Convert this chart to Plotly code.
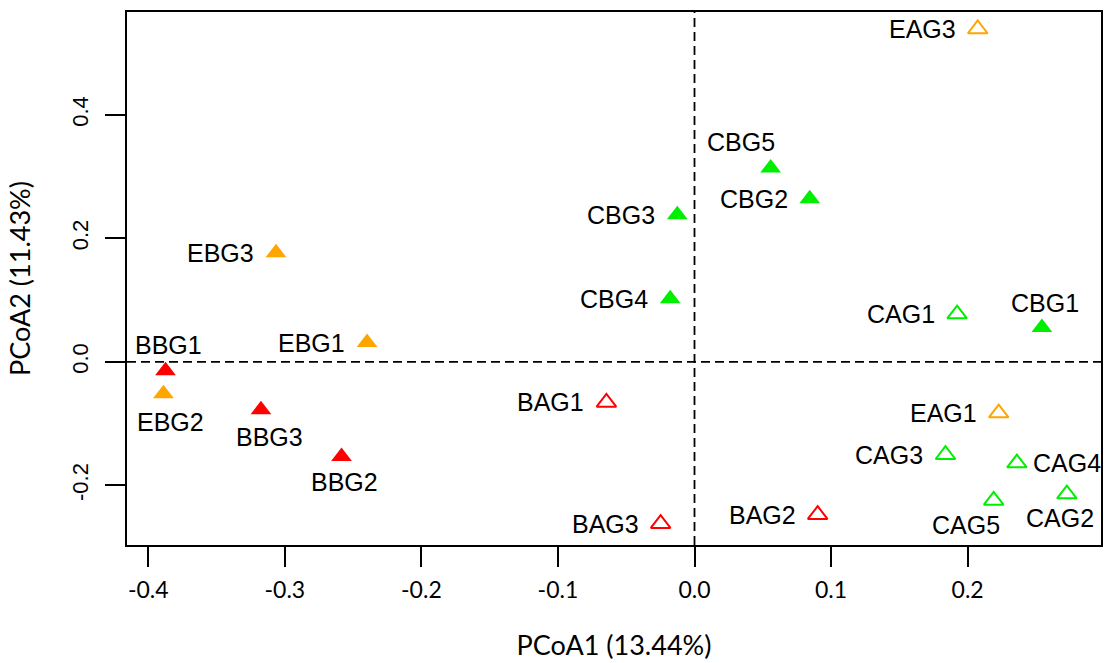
import plotly.graph_objects as go

# ---- data ----
names = ["EAG3", "CBG5", "CBG2", "CBG3", "EBG3", "CBG4", "CAG1", "CBG1", "EBG1",
         "BBG1", "EBG2", "BBG3", "BAG1", "EAG1", "BBG2", "CAG3", "CAG4", "CAG2",
         "CAG5", "BAG2", "BAG3"]
pcoa1 = [0.2074, 0.0558, 0.0844, -0.0126, -0.3065, -0.0178, 0.1923, 0.2544, -0.2398,
         -0.3874, -0.3889, -0.3175, -0.0645, 0.2228, -0.2585, 0.1838, 0.2361, 0.2727,
         0.2191, 0.0902, -0.0248]
pcoa2 = [0.5388, 0.3139, 0.2638, 0.2379, 0.1764, 0.1019, 0.0772, 0.0555, 0.0312,
         -0.0146, -0.0518, -0.0777, -0.0658, -0.0830, -0.1532, -0.1505, -0.1640, -0.2141,
         -0.2244, -0.2476, -0.2621]

x_ticks = [-0.4, -0.3, -0.2, -0.1, 0.0, 0.1, 0.2]
x_tick_text = ["-0.4", "-0.3", "-0.2", "-0.1", "0.0", "0.1", "0.2"]
y_ticks = [-0.2, 0.0, 0.2, 0.4]
y_tick_text = ["-0.2", "0.0", "0.2", "0.4"]
x_title = "PCoA1 (13.44%)"
y_title = "PCoA2 (11.43%)"

# ---- style ----
group_color = {"B": "#FF0000", "C": "#00EE00", "E": "#FFA500"}

# label placement (pixel offsets of label centre from point; 'L' = left, 'R' = right)
label_place = {
    "EAG3": "L", "CBG5": (-30, -26), "CBG2": "L", "CBG3": "L", "EBG3": "L", "CBG4": "L",
    "CAG1": "L", "CBG1": (3, -25), "EBG1": "L", "BBG1": (3, -26), "EBG2": (7, 28),
    "BBG3": (9, 27), "BAG1": "L", "EAG1": "L", "BBG2": (3, 26), "CAG3": "L", "CAG4": "R",
    "CAG2": (-7, 24), "CAG5": (-28, 25), "BAG2": "L", "BAG3": "L",
}

fig = go.Figure()

for grp in ["B", "C", "E"]:
    for kind in ["BG", "AG"]:
        idx = [i for i, n in enumerate(names) if n[0] == grp and n[1:3] == kind]
        if not idx:
            continue
        filled = kind == "BG"
        fig.add_trace(go.Scatter(
            x=[pcoa1[i] for i in idx],
            y=[pcoa2[i] for i in idx],
            mode="markers",
            marker=dict(
                symbol="triangle-up" if filled else "triangle-up-open",
                size=18 if filled else 17,
                color=group_color[grp],
                line=dict(width=0 if filled else 2, color=group_color[grp]),
            ),
            hovertext=[names[i] for i in idx],
            showlegend=False,
        ))

label_font = dict(family="Liberation Sans, Arial, sans-serif", size=25, color="black")
annotations = []
for n, x, y in zip(names, pcoa1, pcoa2):
    p = label_place[n]
    if p == "L":
        annotations.append(dict(x=x, y=y, text=n, showarrow=False, xanchor="right",
                                yanchor="middle", xshift=-20, font=label_font))
    elif p == "R":
        annotations.append(dict(x=x, y=y, text=n, showarrow=False, xanchor="left",
                                yanchor="middle", xshift=14, font=label_font))
    else:
        dx, dy = p
        annotations.append(dict(x=x, y=y, text=n, showarrow=False, xanchor="center",
                                yanchor="middle", xshift=dx, yshift=-dy, font=label_font))

shapes = [
    dict(type="line", xref="x", yref="paper", x0=0, x1=0, y0=0, y1=1,
         line=dict(color="black", width=1.8, dash="9px,5px")),
    dict(type="line", xref="paper", yref="y", x0=0, x1=1, y0=0, y1=0,
         line=dict(color="black", width=1.8, dash="9px,5px")),
]

fig.update_layout(
    width=1104, height=663,
    margin=dict(l=127, r=1, t=12, b=118),
    paper_bgcolor="white", plot_bgcolor="white",
    annotations=annotations, shapes=shapes,
    xaxis=dict(
        range=[-0.4156, 0.2977], tickvals=x_ticks, ticktext=x_tick_text,
        showgrid=False, zeroline=False, showline=True, mirror=True,
        linecolor="black", linewidth=2, ticks="outside", ticklen=20, tickwidth=2,
        tickcolor="black", ticklabelstandoff=3,
        tickfont=dict(family="Lato, sans-serif", size=23, color="black"),
        title=dict(text=x_title, standoff=35,
                   font=dict(family="Lato, sans-serif", size=27, color="black")),
    ),
    yaxis=dict(
        range=[-0.2966, 0.5663], tickvals=y_ticks, ticktext=y_tick_text,
        showgrid=False, zeroline=False, showline=True, mirror=True,
        linecolor="black", linewidth=2, ticks="outside", ticklen=20, tickwidth=2,
        tickcolor="black", tickangle=-90, ticklabelstandoff=8,
        tickfont=dict(family="Liberation Sans, Arial, sans-serif", size=22, color="black"),
        title=dict(text=y_title, standoff=30,
                   font=dict(family="Lato, sans-serif", size=27, color="black")),
    ),
)

fig.write_html("out.html",
               config={"displayModeBar": False},
               post_script="document.body.style.margin='0';document.body.style.overflow='hidden';")
